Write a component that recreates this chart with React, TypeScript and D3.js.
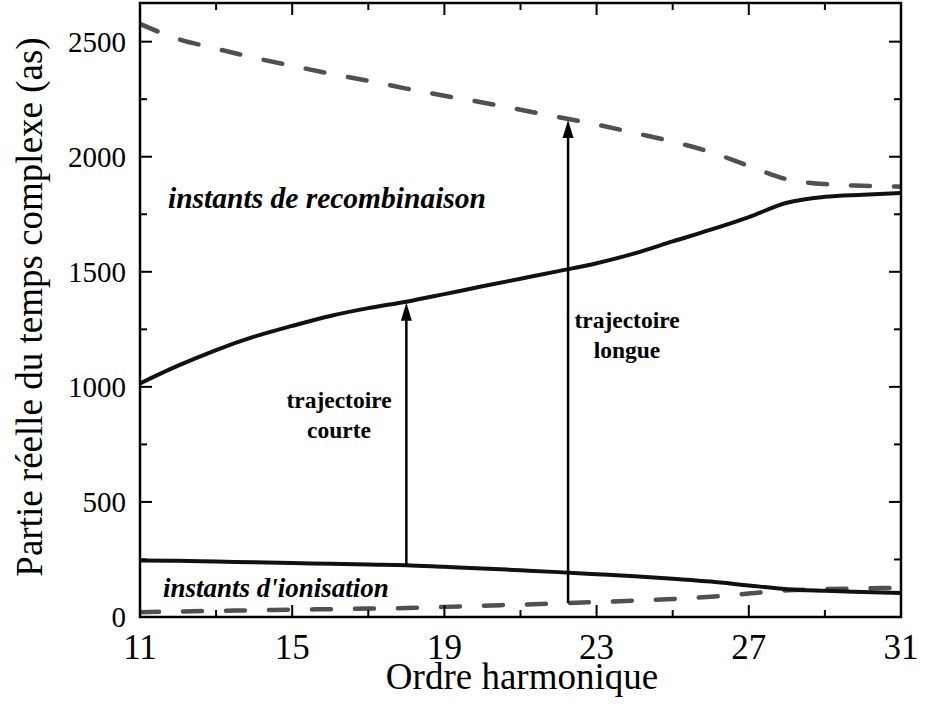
import React from "react";
import * as d3 from "d3";

// Harmonic orders
const harmonics = [11, 12, 13, 14, 15, 16, 17, 18, 19, 20, 21, 22, 23, 24, 25, 26, 27, 28, 29, 30, 31];

// Real part of the complex time (as)
const shortRecombination = [1015, 1092, 1160, 1218, 1265, 1308, 1342, 1370, 1403, 1437, 1470, 1503, 1537, 1580, 1632, 1683, 1738, 1800, 1826, 1835, 1842];
const longRecombination = [2577, 2512, 2470, 2430, 2395, 2361, 2330, 2296, 2265, 2236, 2204, 2172, 2140, 2103, 2066, 2020, 1960, 1902, 1881, 1874, 1870];
const shortIonisation = [246, 244, 241, 238, 235, 231, 228, 225, 218, 211, 203, 195, 186, 177, 166, 154, 137, 121, 114, 109, 104];
const longIonisation = [21, 24, 27, 29, 32, 34, 37, 39, 44, 49, 54, 59, 65, 71, 78, 88, 102, 116, 121, 124, 127];

const xMajorTicks = [11, 15, 19, 23, 27, 31];
const xMinorTicks = [13, 17, 21, 25, 29];
const yMajorTicks = [0, 500, 1000, 1500, 2000, 2500];
const yMinorTicks = [250, 750, 1250, 1750, 2250];

const arrowShortH = 18;
const arrowLongH = 22.25;

const LEFT = 140;
const RIGHT = 901;
const TOP = 3;
const BOTTOM = 617;

const serif = "'Liberation Serif', 'Times New Roman', serif";

export default function App() {
  const x = d3.scaleLinear().domain([11, 31]).range([LEFT, RIGHT]);
  const y = d3.scaleLinear().domain([0, 2668]).range([BOTTOM, TOP]);

  const line = d3
    .line<[number, number]>()
    .x((d) => x(d[0]))
    .y((d) => y(d[1]))
    .curve(d3.curveMonotoneX);

  const pts = (vals: number[]) => harmonics.map((h, i) => [h, vals[i]] as [number, number]);

  const interp = (vals: number[], h: number) => {
    const i = d3.bisectRight(harmonics, h) - 1;
    const j = Math.min(i + 1, harmonics.length - 1);
    if (i === j) return vals[i];
    const t = (h - harmonics[i]) / (harmonics[j] - harmonics[i]);
    return vals[i] + t * (vals[j] - vals[i]);
  };

  const arrow = (h: number, from: number[], to: number[], key: string) => {
    const ax = x(h);
    const y0 = y(interp(from, h));
    const y1 = y(interp(to, h)) + 1;
    const headLen = 18;
    const headW = 5.5;
    return (
      <g key={key}>
        <line x1={ax} x2={ax} y1={y0} y2={y1 + headLen - 2} stroke="#000" strokeWidth={2.5} />
        <path
          d={`M${ax},${y1} L${ax - headW},${y1 + headLen} L${ax + headW},${y1 + headLen} Z`}
          fill="#000"
        />
      </g>
    );
  };

  const majorLen = 12;
  const minorLen = 7;

  return (
    <svg
      width={935}
      height={704}
      style={{ position: "absolute", left: 0, top: 0, background: "#fff" }}
    >
      <rect x={0} y={0} width={935} height={704} fill="#fff" />
      <defs>
        <clipPath id="plotClip">
          <rect x={LEFT} y={TOP} width={RIGHT - LEFT} height={BOTTOM - TOP} />
        </clipPath>
      </defs>

      {/* curves */}
      <g clipPath="url(#plotClip)">
        <path d={line(pts(longRecombination)) || ""} fill="none" stroke="#505050" strokeWidth={4.5}
          strokeDasharray="19 24" strokeLinecap="round" />
        <path d={line(pts(longIonisation)) || ""} fill="none" stroke="#505050" strokeWidth={4.5}
          strokeDasharray="19 24" strokeLinecap="round" />
        <path d={line(pts(shortRecombination)) || ""} fill="none" stroke="#111" strokeWidth={4} />
        <path d={line(pts(shortIonisation)) || ""} fill="none" stroke="#111" strokeWidth={4} />
      </g>

      {/* arrows */}
      {arrow(arrowShortH, shortIonisation, shortRecombination, "a1")}
      {arrow(arrowLongH, longIonisation, longRecombination, "a2")}

      {/* frame */}
      <rect x={LEFT} y={TOP} width={RIGHT - LEFT} height={BOTTOM - TOP} fill="none" stroke="#000" strokeWidth={2.5} />

      {/* x ticks */}
      {xMajorTicks.map((t) => (
        <g key={"xM" + t}>
          <line x1={x(t)} x2={x(t)} y1={BOTTOM} y2={BOTTOM - majorLen} stroke="#000" strokeWidth={2} />
          <line x1={x(t)} x2={x(t)} y1={TOP} y2={TOP + majorLen} stroke="#000" strokeWidth={2} />
          <text x={x(t)} y={659} textAnchor="middle" fontFamily={serif} fontSize={35}>{t}</text>
        </g>
      ))}
      {xMinorTicks.map((t) => (
        <g key={"xm" + t}>
          <line x1={x(t)} x2={x(t)} y1={BOTTOM} y2={BOTTOM - minorLen} stroke="#000" strokeWidth={2} />
          <line x1={x(t)} x2={x(t)} y1={TOP} y2={TOP + minorLen} stroke="#000" strokeWidth={2} />
        </g>
      ))}

      {/* y ticks */}
      {yMajorTicks.map((t) => (
        <g key={"yM" + t}>
          <line x1={LEFT} x2={LEFT + majorLen} y1={y(t)} y2={y(t)} stroke="#000" strokeWidth={2} />
          <line x1={RIGHT} x2={RIGHT - majorLen} y1={y(t)} y2={y(t)} stroke="#000" strokeWidth={2} />
          <text x={126} y={y(t) + 10} textAnchor="end" fontFamily={serif} fontSize={29}>{t}</text>
        </g>
      ))}
      {yMinorTicks.map((t) => (
        <g key={"ym" + t}>
          <line x1={LEFT} x2={LEFT + minorLen} y1={y(t)} y2={y(t)} stroke="#000" strokeWidth={2} />
          <line x1={RIGHT} x2={RIGHT - minorLen} y1={y(t)} y2={y(t)} stroke="#000" strokeWidth={2} />
        </g>
      ))}

      {/* axis titles */}
      <text x={522} y={689} textAnchor="middle" fontFamily={serif} fontSize={37}>Ordre harmonique</text>
      <text
        transform="translate(42,307) rotate(-90)"
        textAnchor="middle"
        fontFamily={serif}
        fontSize={37}
      >
        Partie réelle du temps complexe (as)
      </text>

      {/* annotations */}
      <text x={168} y={208} fontFamily={serif} fontSize={29.5} fontWeight="bold" fontStyle="italic">
        instants de recombinaison
      </text>
      <text x={163} y={597} fontFamily={serif} fontSize={27} fontWeight="bold" fontStyle="italic">
        instants d'ionisation
      </text>
      <text x={339} y={408} textAnchor="middle" fontFamily={serif} fontSize={23.5} fontWeight="bold">
        trajectoire
      </text>
      <text x={339} y={438} textAnchor="middle" fontFamily={serif} fontSize={23.5} fontWeight="bold">
        courte
      </text>
      <text x={627} y={328} textAnchor="middle" fontFamily={serif} fontSize={23.5} fontWeight="bold">
        trajectoire
      </text>
      <text x={627} y={358} textAnchor="middle" fontFamily={serif} fontSize={23.5} fontWeight="bold">
        longue
      </text>
    </svg>
  );
}
